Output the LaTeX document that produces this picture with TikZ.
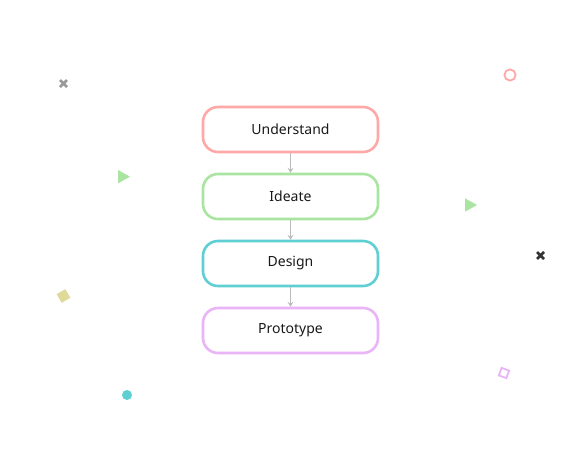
\documentclass[tikz,border=0pt]{standalone}
\usepackage{fontspec}
\setmainfont{Noto Sans}
\usetikzlibrary{arrows.meta}
\definecolor{cpink}{HTML}{FFA8A8}
\definecolor{cgreen}{HTML}{A9E5A0}
\definecolor{cteal}{HTML}{5ECFD3}
\definecolor{clav}{HTML}{E9B5F7}
\definecolor{colive}{HTML}{E0DA9A}
\definecolor{cgray}{HTML}{999999}
\definecolor{cdark}{HTML}{333333}
\definecolor{carrow}{HTML}{BBBBBB}
\begin{document}
\begin{tikzpicture}[x=1pt,y=-1pt,
  stepbox/.style={draw, line width=2.6pt, rounded corners=15pt, minimum width=175pt, minimum height=45pt, fill=white, font=\fontsize{14}{16}\selectfont, text=black!90},
  conn/.style={draw=carrow, line width=0.9pt, -{Stealth[length=5pt,width=6pt,inset=2pt]}},
  cross/.style={line width=2.6pt}]
\useasboundingbox[fill=white] (0,0) rectangle (581,461);
\node[stepbox, draw=cpink] (u) at (290.5,129.5) {Understand};
\node[stepbox, draw=cgreen] (i) at (290.5,196.5) {Ideate};
\node[stepbox, draw=cteal] (d) at (290.5,263.5) {Design};
\node[stepbox, draw=clav] (p) at (290.5,330.5) {Prototype};
\draw[conn] (u) -- (i);
\draw[conn] (i) -- (d);
\draw[conn] (d) -- (p);
% decorations
\draw[cross, cgray] (60,80) -- (67,87) (60,87) -- (67,80);
\draw[cross, cdark] (537,252) -- (544,259) (537,259) -- (544,252);
\fill[cgreen] (118,170) -- (130,176.7) -- (118,183.3) -- cycle;
\fill[cgreen] (465,198.3) -- (477,205) -- (465,211.7) -- cycle;
\draw[cpink, line width=1.8pt] (510,75) circle (5.6);
\fill[colive, rotate around={30:(63.5,296)}] (58.5,291) rectangle (68.5,301);
\fill[cteal] (127,395) circle (5);
\draw[clav, line width=1.8pt, rotate around={-20:(504,373)}] (500,369) rectangle (508,377);
\end{tikzpicture}
\end{document}
